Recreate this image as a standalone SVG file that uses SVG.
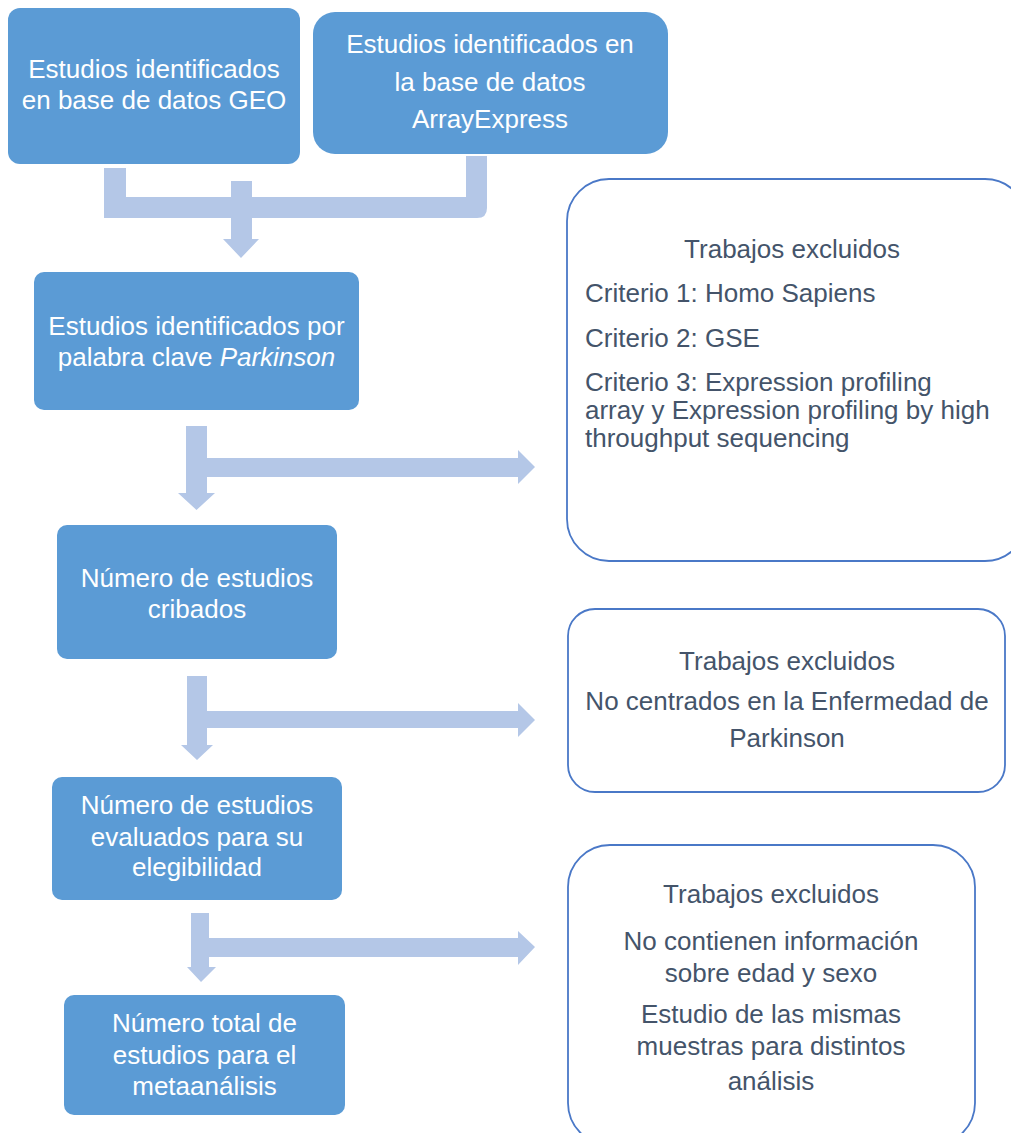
<svg xmlns="http://www.w3.org/2000/svg" width="1011" height="1133" viewBox="0 0 1011 1133">
<style>
.box{fill:#5B9BD5}
.wt{font-family:"Liberation Sans",Arial,sans-serif;font-size:26px;fill:#FFFFFF;text-anchor:middle}
.ex{fill:#FFFFFF;stroke:#4A78C7;stroke-width:1.8}
.gt{font-family:"Liberation Sans",Arial,sans-serif;font-size:26px;fill:#44546A}
.mid{text-anchor:middle}
.arr{fill:#B4C7E7}
</style>
<rect width="1011" height="1133" fill="#FFFFFF"/>
<g id="connectors">
  <path class="arr" d="M104,168 H126 V197 H466 V156 H487 V208 Q487,218 477,218 H104 Z"/>
  <path class="arr" d="M231,181 H252 V239 H259 L241,258 L223,239 H231 Z"/>
  <path class="arr" d="M186,426 H207 V458 H518 V450 L535,467 L518,484 V477 H207 V493 H215 L196.5,510 L178,493 H186 Z"/>
  <path class="arr" d="M187,676 H207 V711 H518 V703 L535,720 L518,737 V728 H207 V745 H213 L197,760 L181,745 H187 Z"/>
  <path class="arr" d="M191,913 H209 V938 H518 V931 L535,947 L518,965 V957 H209 V967 H216 L201,982 L187,967 H191 Z"/>
</g>
<g id="n_geo">
  <rect class="box" x="8" y="8" width="292" height="156" rx="12"/>
  <text class="wt" x="154" y="78">Estudios identificados</text>
  <text class="wt" x="154" y="109">en base de datos GEO</text>
</g>
<g id="n_arrayexpress">
  <rect class="box" x="313" y="12" width="355" height="142" rx="22"/>
  <text class="wt" x="490" y="53">Estudios identificados en</text>
  <text class="wt" x="490" y="91">la base de datos</text>
  <text class="wt" x="490" y="128">ArrayExpress</text>
</g>
<g id="n_parkinson">
  <rect class="box" x="34" y="272" width="325" height="138" rx="10"/>
  <text class="wt" x="196.5" y="335">Estudios identificados por</text>
  <text class="wt" x="196.5" y="366">palabra clave <tspan font-style="italic">Parkinson</tspan></text>
</g>
<g id="n_cribados">
  <rect class="box" x="57" y="525" width="280" height="134" rx="10"/>
  <text class="wt" x="197" y="587">Número de estudios</text>
  <text class="wt" x="197" y="618">cribados</text>
</g>
<g id="n_elegibilidad">
  <rect class="box" x="52" y="777" width="290" height="123" rx="10"/>
  <text class="wt" x="197" y="814">Número de estudios</text>
  <text class="wt" x="197" y="846">evaluados para su</text>
  <text class="wt" x="197" y="876">elegibilidad</text>
</g>
<g id="n_total">
  <rect class="box" x="64" y="995" width="281" height="120" rx="10"/>
  <text class="wt" x="204.5" y="1032">Número total de</text>
  <text class="wt" x="204.5" y="1064">estudios para el</text>
  <text class="wt" x="204.5" y="1095">metaanálisis</text>
</g>
<g id="n_excl1">
  <rect class="ex" x="567" y="179" width="460" height="382" rx="42"/>
  <text class="gt mid" x="792" y="258">Trabajos excluidos</text>
  <text class="gt" x="585" y="302">Criterio 1: Homo Sapiens</text>
  <text class="gt" x="585" y="347">Criterio 2: GSE</text>
  <text class="gt" x="585" y="391">Criterio 3: Expression profiling</text>
  <text class="gt" x="585" y="419">array y Expression profiling by high</text>
  <text class="gt" x="585" y="447">throughput sequencing</text>
</g>
<g id="n_excl2">
  <rect class="ex" x="568" y="609" width="437" height="183" rx="27"/>
  <text class="gt mid" x="787" y="670">Trabajos excluidos</text>
  <text class="gt mid" x="787" y="710">No centrados en la Enfermedad de</text>
  <text class="gt mid" x="787" y="747">Parkinson</text>
</g>
<g id="n_excl3">
  <rect class="ex" x="568" y="845" width="407" height="300" rx="42"/>
  <text class="gt mid" x="771" y="903">Trabajos excluidos</text>
  <text class="gt mid" x="771" y="950">No contienen información</text>
  <text class="gt mid" x="771" y="982">sobre edad y sexo</text>
  <text class="gt mid" x="771" y="1023">Estudio de las mismas</text>
  <text class="gt mid" x="771" y="1055">muestras para distintos</text>
  <text class="gt mid" x="771" y="1090" font-size="29">análisis</text>
</g>
</svg>
